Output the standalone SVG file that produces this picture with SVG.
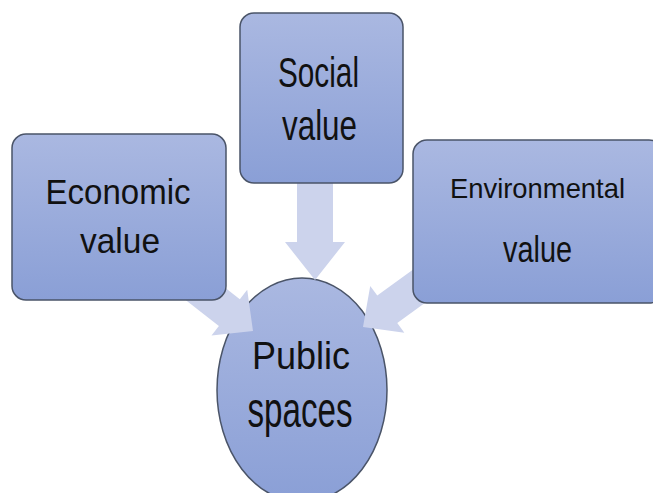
<svg xmlns="http://www.w3.org/2000/svg" width="653" height="493" viewBox="0 0 653 493">
<defs>
<linearGradient id="boxGrad" x1="0" y1="0" x2="0" y2="1">
<stop offset="0" stop-color="#AAB8E1"/>
<stop offset="1" stop-color="#8A9FD6"/>
</linearGradient>
<style>
.box{fill:url(#boxGrad);stroke:#4A5468;stroke-width:1.5}
.arrow{fill:#CCD3EC}
.t{font-family:"Liberation Sans",Arial,sans-serif;fill:#111;text-anchor:middle}
</style>
</defs>
<rect width="653" height="493" fill="#fff"/>
<g id="public-spaces">
<ellipse class="box" cx="302" cy="390" rx="85" ry="112"/>
</g>
<g id="connectors">
<polygon class="arrow" points="297,178 333,178 333,242 345,242 315,280 285,242 297,242"/>
<polygon class="arrow" points="0,0 -30,-29 -30,-17 -110,-17 -110,17 -30,17 -30,29" transform="translate(253,331) rotate(38)"/>
<polygon class="arrow" points="0,0 -30,-29 -30,-17 -110,-17 -110,17 -30,17 -30,29" transform="translate(363,327) rotate(144)"/>
</g>
<g id="economic">
<rect class="box" x="12" y="134" width="214" height="166" rx="14"/>
<text class="t" x="118" y="204" font-size="35" textLength="145" lengthAdjust="spacingAndGlyphs">Economic</text>
<text class="t" x="120" y="253" font-size="35" textLength="80" lengthAdjust="spacingAndGlyphs">value</text>
</g>
<g id="social">
<rect class="box" x="240" y="13" width="163" height="170" rx="14"/>
<text class="t" x="318.5" y="87" font-size="42" textLength="81" lengthAdjust="spacingAndGlyphs">Social</text>
<text class="t" x="319.5" y="140" font-size="42" textLength="75" lengthAdjust="spacingAndGlyphs">value</text>
</g>
<g id="environmental">
<rect class="box" x="413" y="140" width="250" height="163" rx="14"/>
<text class="t" x="537.5" y="198" font-size="28" textLength="175" lengthAdjust="spacingAndGlyphs">Environmental</text>
<text class="t" x="537.5" y="262" font-size="37" textLength="69" lengthAdjust="spacingAndGlyphs">value</text>
</g>
<g id="public-spaces-label">
<text class="t" x="301" y="369" font-size="39" textLength="98" lengthAdjust="spacingAndGlyphs">Public</text>
<text class="t" x="300" y="427" font-size="50" textLength="105" lengthAdjust="spacingAndGlyphs">spaces</text>
</g>
</svg>
